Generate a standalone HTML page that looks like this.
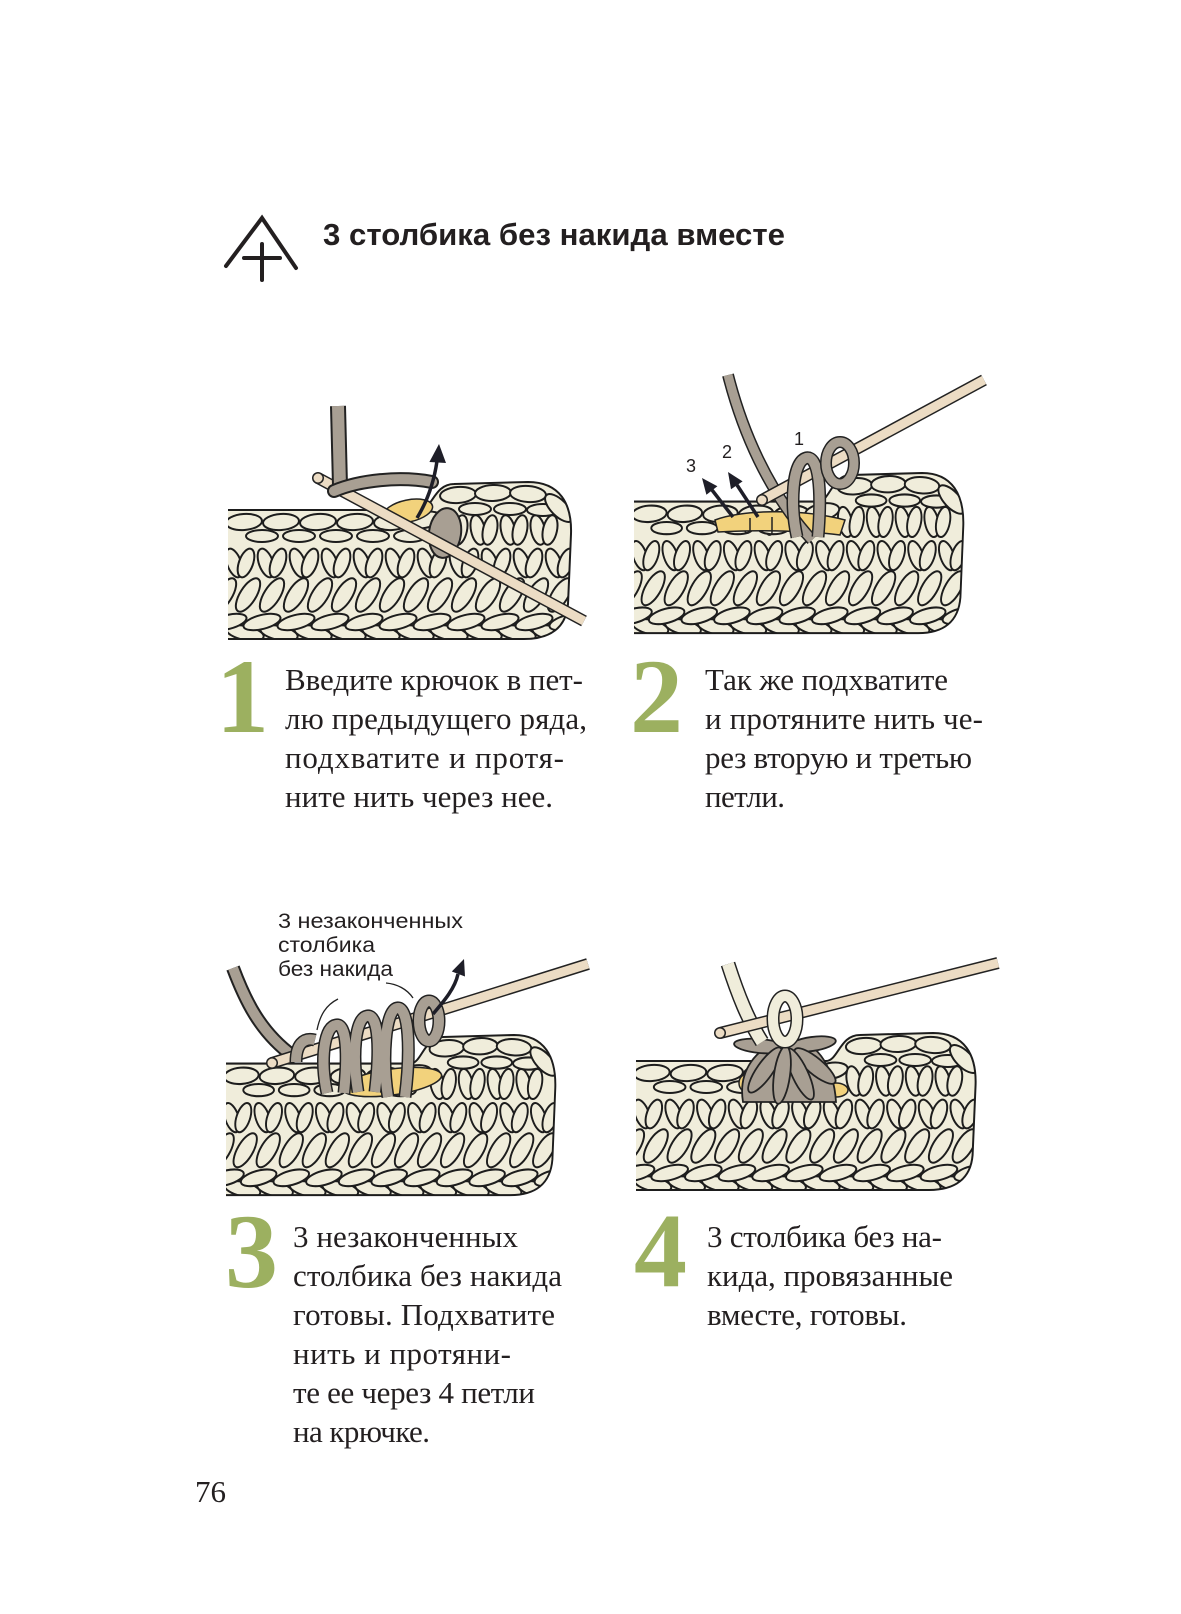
<!DOCTYPE html>
<html><head><meta charset="utf-8">
<style>
html,body{margin:0;padding:0;background:#fff;}
body{width:1181px;height:1614px;overflow:hidden;}
svg{display:block;}
.t{font-family:"Liberation Serif","Noto Serif CJK SC",serif;font-size:31px;fill:#231f20;}
.n{font-family:"Liberation Serif",serif;font-weight:bold;font-size:106px;fill:#9cb060;}
.s{font-family:"Liberation Sans",sans-serif;fill:#231f20;}
</style></head>
<body>
<svg width="1181" height="1614" viewBox="0 0 1181 1614" xmlns="http://www.w3.org/2000/svg">
<defs>
 <ellipse id="ct" rx="18" ry="8" fill="#f0eddb" stroke="#1d1d1d" stroke-width="2"/>
 <ellipse id="ct2" rx="16" ry="6" fill="#f0eddb" stroke="#1d1d1d" stroke-width="2"/>
 <ellipse id="vl" rx="7" ry="15" fill="#f0eddb" stroke="#1d1d1d" stroke-width="2"/>
 <ellipse id="dg" rx="8" ry="19" fill="#f0eddb" stroke="#1d1d1d" stroke-width="2"/>
 <ellipse id="bc" rx="19" ry="7" fill="#f0eddb" stroke="#1d1d1d" stroke-width="2"/>
 <clipPath id="swc"><path d="M0,28 L192,28 C204,28 206,2 226,2 L300,0 C332,0 344,22 343,52 L340,122 C338,146 322,157 296,157 L0,157 Z"/></clipPath>
 <g id="sw">
  <path d="M0,28 L192,28 C204,28 206,2 226,2 L300,0 C332,0 344,22 343,52 L340,122 C338,146 322,157 296,157 L0,157 Z" fill="#f0eddb"/>
  <g clip-path="url(#swc)">
   <use href="#bc" transform="translate(17,151) rotate(12)"/><use href="#bc" transform="translate(51,151) rotate(12)"/><use href="#bc" transform="translate(85,151) rotate(12)"/><use href="#bc" transform="translate(119,151) rotate(12)"/><use href="#bc" transform="translate(153,151) rotate(12)"/><use href="#bc" transform="translate(187,151) rotate(12)"/><use href="#bc" transform="translate(221,151) rotate(12)"/><use href="#bc" transform="translate(255,151) rotate(12)"/><use href="#bc" transform="translate(289,151) rotate(12)"/><use href="#bc" transform="translate(323,151) rotate(12)"/>
   <use href="#bc" transform="translate(0,140) rotate(-14)"/><use href="#bc" transform="translate(34,140) rotate(-14)"/><use href="#bc" transform="translate(68,140) rotate(-14)"/><use href="#bc" transform="translate(102,140) rotate(-14)"/><use href="#bc" transform="translate(136,140) rotate(-14)"/><use href="#bc" transform="translate(170,140) rotate(-14)"/><use href="#bc" transform="translate(204,140) rotate(-14)"/><use href="#bc" transform="translate(238,140) rotate(-14)"/><use href="#bc" transform="translate(272,140) rotate(-14)"/><use href="#bc" transform="translate(306,140) rotate(-14)"/><use href="#bc" transform="translate(340,140) rotate(-14)"/>
   <use href="#dg" transform="translate(-4,113) rotate(32)"/><use href="#dg" transform="translate(20,113) rotate(32)"/><use href="#dg" transform="translate(44,113) rotate(32)"/><use href="#dg" transform="translate(68,113) rotate(32)"/><use href="#dg" transform="translate(92,113) rotate(32)"/><use href="#dg" transform="translate(116,113) rotate(32)"/><use href="#dg" transform="translate(140,113) rotate(32)"/><use href="#dg" transform="translate(164,113) rotate(32)"/><use href="#dg" transform="translate(188,113) rotate(32)"/><use href="#dg" transform="translate(212,113) rotate(32)"/><use href="#dg" transform="translate(236,113) rotate(32)"/><use href="#dg" transform="translate(260,113) rotate(32)"/><use href="#dg" transform="translate(284,113) rotate(32)"/><use href="#dg" transform="translate(308,113) rotate(32)"/><use href="#dg" transform="translate(332,113) rotate(32)"/>
   <use href="#vl" transform="translate(6,81) rotate(-20)"/><use href="#vl" transform="translate(18,81) rotate(20)"/>
   <use href="#vl" transform="translate(38,81) rotate(-20)"/><use href="#vl" transform="translate(50,81) rotate(20)"/>
   <use href="#vl" transform="translate(70,81) rotate(-20)"/><use href="#vl" transform="translate(82,81) rotate(20)"/>
   <use href="#vl" transform="translate(102,81) rotate(-20)"/><use href="#vl" transform="translate(114,81) rotate(20)"/>
   <use href="#vl" transform="translate(134,81) rotate(-20)"/><use href="#vl" transform="translate(146,81) rotate(20)"/>
   <use href="#vl" transform="translate(166,81) rotate(-20)"/><use href="#vl" transform="translate(178,81) rotate(20)"/>
   <use href="#vl" transform="translate(198,81) rotate(-20)"/><use href="#vl" transform="translate(210,81) rotate(20)"/>
   <use href="#vl" transform="translate(230,81) rotate(-20)"/><use href="#vl" transform="translate(242,81) rotate(20)"/>
   <use href="#vl" transform="translate(262,81) rotate(-20)"/><use href="#vl" transform="translate(274,81) rotate(20)"/>
   <use href="#vl" transform="translate(294,81) rotate(-20)"/><use href="#vl" transform="translate(306,81) rotate(20)"/>
   <use href="#vl" transform="translate(326,81) rotate(-20)"/><use href="#vl" transform="translate(338,81) rotate(20)"/>
   <use href="#ct2" transform="translate(34,54)"/><use href="#ct2" transform="translate(71,54)"/><use href="#ct2" transform="translate(108,54)"/><use href="#ct2" transform="translate(145,54)"/><use href="#ct2" transform="translate(182,54)"/>
   <use href="#ct" transform="translate(16,40) rotate(-4)"/><use href="#ct" transform="translate(53,40) rotate(-4)"/><use href="#ct" transform="translate(90,40) rotate(-4)"/><use href="#ct" transform="translate(127,40) rotate(-4)"/><use href="#ct" transform="translate(164,40) rotate(-4)"/><use href="#ct" transform="translate(196,38) rotate(-10)"/>
   <use href="#vl" transform="translate(220,48) rotate(-12)"/><use href="#vl" transform="translate(232,48) rotate(12)"/>
   <use href="#vl" transform="translate(250,48) rotate(-12)"/><use href="#vl" transform="translate(262,48) rotate(12)"/>
   <use href="#vl" transform="translate(280,48) rotate(-12)"/><use href="#vl" transform="translate(292,48) rotate(12)"/>
   <use href="#vl" transform="translate(310,48) rotate(-12)"/><use href="#vl" transform="translate(322,48) rotate(12)"/>
   <use href="#ct2" transform="translate(247,27)"/><use href="#ct2" transform="translate(282,27)"/><use href="#ct2" transform="translate(315,28)"/>
   <use href="#ct" transform="translate(230,13) rotate(-4)"/><use href="#ct" transform="translate(265,11) rotate(-2)"/><use href="#ct" transform="translate(300,12) rotate(4)"/><use href="#ct" transform="translate(331,26) rotate(45)"/>
  </g>
  <path d="M0,28 L192,28 C204,28 206,2 226,2 L300,0 C332,0 344,22 343,52 L340,122 C338,146 322,157 296,157 L0,157" fill="none" stroke="#1d1d1d" stroke-width="2"/>
 </g>
</defs>

<!-- Title -->
<g fill="none" stroke="#231f20" stroke-width="4" stroke-linecap="round">
 <path d="M226,266 L262,218 L296,268"/>
 <path d="M262,244 L262,280 M244,258 L280,258"/>
</g>
<text class="s" x="323" y="245" font-size="31" font-weight="bold" textLength="462" lengthAdjust="spacingAndGlyphs">3 столбика без накида вместе</text>

<!-- Panel 1 -->
<use href="#sw" transform="translate(228,482)"/>
<ellipse cx="408" cy="511" rx="25" ry="11" transform="rotate(-12 408 511)" fill="#f2d27c" stroke="#222" stroke-width="1.5"/>
<ellipse cx="445" cy="533" rx="16" ry="25" transform="rotate(8 445 533)" fill="#a89f93" stroke="#222" stroke-width="2"/>
<line x1="318" y1="478" x2="584" y2="621" stroke="#222" stroke-width="12"/>
<line x1="318" y1="478" x2="584" y2="621" stroke="#ecdcc4" stroke-width="9"/>
<circle cx="318" cy="478" r="6" fill="#222"/><circle cx="318" cy="478" r="4.5" fill="#ecdcc4"/>
<path d="M338,406 L340,486" stroke="#222" stroke-width="16" fill="none"/>
<path d="M338,406 L340,486" stroke="#a89f93" stroke-width="12" fill="none"/>
<path d="M334,491 C360,480 400,476 432,482" stroke="#222" stroke-width="14" fill="none" stroke-linecap="round"/>
<path d="M334,491 C360,480 400,476 432,482" stroke="#a89f93" stroke-width="10" fill="none" stroke-linecap="round"/>
<path d="M417,518 C428,500 434,482 437,461" stroke="#1e1e28" stroke-width="3.5" fill="none"/>
<polygon points="439,444 429.4,462 446,463" fill="#1e1e28"/>

<!-- Panel 2 -->
<use href="#sw" transform="translate(634,473) scale(0.96,1.02)"/>
<path d="M715,520 C740,510 800,508 845,520 L840,535 C800,530 750,530 718,532 Z" fill="#f2d27c" stroke="#222" stroke-width="1.5"/>
<path d="M750,518 L750,530 C750,534 746,534 745,531 M772,517 L772,532 C772,536 768,536 767,533" stroke="#222" stroke-width="1.5" fill="none"/>
<path d="M728,375 C742,430 768,492 812,540" stroke="#222" stroke-width="12" fill="none"/>
<path d="M728,375 C742,430 768,492 812,540" stroke="#a89f93" stroke-width="9" fill="none"/>
<line x1="762" y1="500" x2="984" y2="380" stroke="#222" stroke-width="12"/>
<line x1="762" y1="500" x2="984" y2="380" stroke="#ecdcc4" stroke-width="9"/>
<circle cx="762" cy="500" r="6" fill="#222"/><circle cx="762" cy="500" r="4.5" fill="#ecdcc4"/>
<path d="M797,537 C790,505 792,462 806,458 C819,455 822,490 818,537" stroke="#222" stroke-width="13" fill="none"/>
<path d="M797,537 C790,505 792,462 806,458 C819,455 822,490 818,537" stroke="#a89f93" stroke-width="10" fill="none"/>
<ellipse cx="840" cy="463" rx="14" ry="21" fill="none" stroke="#222" stroke-width="12"/>
<ellipse cx="840" cy="463" rx="14" ry="21" fill="none" stroke="#a89f93" stroke-width="9"/>
<path d="M758,517 L737,485" stroke="#1e1e28" stroke-width="3.5"/>
<polygon points="728,472 742.6,481.4 731,489.2" fill="#1e1e28"/>
<path d="M733,517 L712,490" stroke="#1e1e28" stroke-width="3.5"/>
<polygon points="702,478 717.4,486.2 706.4,494.8" fill="#1e1e28"/>
<text class="s" x="691" y="472" font-size="18" text-anchor="middle">3</text>
<text class="s" x="727" y="458" font-size="18" text-anchor="middle">2</text>
<text class="s" x="799" y="445" font-size="18" text-anchor="middle">1</text>

<!-- Panel 3 -->
<use href="#sw" transform="translate(226,1035) scale(0.96,1.02)"/>
<ellipse cx="392" cy="1082" rx="50" ry="13" transform="rotate(-8 392 1082)" fill="#f2d27c" stroke="#222" stroke-width="1.5"/>
<path d="M233,968 C245,1000 260,1032 293,1056" stroke="#222" stroke-width="14" fill="none"/>
<path d="M233,968 C245,1000 260,1032 293,1056" stroke="#a89f93" stroke-width="10" fill="none"/>
<line x1="272" y1="1063" x2="588" y2="964" stroke="#222" stroke-width="12"/>
<line x1="272" y1="1063" x2="588" y2="964" stroke="#ecdcc4" stroke-width="9"/>
<circle cx="272" cy="1063" r="6" fill="#222"/><circle cx="272" cy="1063" r="4.5" fill="#ecdcc4"/>
<g fill="none" stroke="#222" stroke-width="13">
 <path d="M296,1062 C296,1045 303,1037 315,1040"/>
 <path d="M327,1093 C320,1060 324,1027 336,1025 C347,1023 348,1055 344,1093"/>
 <path d="M358,1092 C352,1055 355,1018 367,1016 C379,1014 380,1050 375,1092"/>
 <path d="M388,1097 C382,1060 385,1010 397,1008 C409,1006 411,1050 405,1097"/>
 <ellipse cx="429" cy="1021" rx="10" ry="20"/>
</g>
<g fill="none" stroke="#a89f93" stroke-width="10">
 <path d="M296,1062 C296,1045 303,1037 315,1040"/>
 <path d="M327,1093 C320,1060 324,1027 336,1025 C347,1023 348,1055 344,1093"/>
 <path d="M358,1092 C352,1055 355,1018 367,1016 C379,1014 380,1050 375,1092"/>
 <path d="M388,1097 C382,1060 385,1010 397,1008 C409,1006 411,1050 405,1097"/>
 <ellipse cx="429" cy="1021" rx="10" ry="20"/>
</g>
<path d="M317,1030 C320,1015 326,1005 338,999 M386,983 C397,984 407,989 413,998" stroke="#222" stroke-width="1.3" fill="none"/>
<path d="M433,1014 C445,1000 455,988 458,974" stroke="#1e1e28" stroke-width="3.5" fill="none"/>
<polygon points="464,959 465,976.5 451.8,971.5" fill="#1e1e28"/>
<text class="s" x="278" y="928" font-size="21.5" textLength="185" lengthAdjust="spacingAndGlyphs">3 незаконченных</text>
<text class="s" x="278" y="952" font-size="21.5" textLength="97" lengthAdjust="spacingAndGlyphs">столбика</text>
<text class="s" x="278" y="976" font-size="21.5" textLength="115" lengthAdjust="spacingAndGlyphs">без накида</text>

<!-- Panel 4 -->
<use href="#sw" transform="translate(636,1033) scale(0.99,1.0)"/>
<ellipse cx="745" cy="1083" rx="6" ry="8" fill="#f2d27c" stroke="#222" stroke-width="1.5"/>
<ellipse cx="836" cy="1090" rx="12" ry="7" fill="#f2d27c" stroke="#222" stroke-width="1.5"/>
<path d="M743,1102 C738,1072 755,1046 786,1040 C815,1036 834,1066 836,1102 Z" fill="#a89f93" stroke="#222" stroke-width="1.8"/>
<g fill="#a89f93" stroke="#222" stroke-width="1.8">
 <ellipse cx="760" cy="1046" rx="26" ry="7" transform="rotate(5 760 1046)"/>
 <ellipse cx="812" cy="1044" rx="24" ry="7" transform="rotate(-8 812 1044)"/>
 <ellipse cx="765" cy="1070" rx="8" ry="27" transform="rotate(35 765 1070)"/>
 <ellipse cx="815" cy="1066" rx="8" ry="26" transform="rotate(-50 815 1066)"/>
 <ellipse cx="800" cy="1074" rx="8" ry="28" transform="rotate(-25 800 1074)"/>
 <ellipse cx="782" cy="1075" rx="8" ry="29" transform="rotate(8 782 1075)"/>
</g>
<path d="M728,964 C738,995 748,1020 762,1042" stroke="#222" stroke-width="15" fill="none"/>
<path d="M728,964 C738,995 748,1020 762,1042" stroke="#f0eddb" stroke-width="12" fill="none"/>
<line x1="720" y1="1033" x2="998" y2="963" stroke="#222" stroke-width="12"/>
<line x1="720" y1="1033" x2="998" y2="963" stroke="#ecdcc4" stroke-width="9"/>
<circle cx="720" cy="1033" r="6" fill="#222"/><circle cx="720" cy="1033" r="4.5" fill="#ecdcc4"/>
<ellipse cx="785" cy="1019" rx="12" ry="23" fill="none" stroke="#222" stroke-width="13"/>
<ellipse cx="785" cy="1019" rx="12" ry="23" fill="none" stroke="#f0eddb" stroke-width="10"/>

<!-- Step numbers -->
<text class="n" x="216" y="732">1</text>
<text class="n" x="630" y="732">2</text>
<text class="n" x="225" y="1287">3</text>
<text class="n" x="634" y="1286">4</text>

<!-- Block 1 -->
<text class="t" x="285" y="690" textLength="298" lengthAdjust="spacing">Введите крючок в пет-</text>
<text class="t" x="285" y="729" textLength="302" lengthAdjust="spacing">лю предыдущего ряда,</text>
<text class="t" x="285" y="768" textLength="279" lengthAdjust="spacing">подхватите и протя-</text>
<text class="t" x="285" y="807" textLength="268" lengthAdjust="spacing">ните нить через нее.</text>

<!-- Block 2 -->
<text class="t" x="705" y="690" textLength="243" lengthAdjust="spacing">Так же подхватите</text>
<text class="t" x="705" y="729" textLength="278" lengthAdjust="spacing">и протяните нить че-</text>
<text class="t" x="705" y="768" textLength="267" lengthAdjust="spacing">рез вторую и третью</text>
<text class="t" x="705" y="807" textLength="80" lengthAdjust="spacing">петли.</text>

<!-- Block 3 -->
<text class="t" x="293" y="1247" textLength="225" lengthAdjust="spacing">3 незаконченных</text>
<text class="t" x="293" y="1286" textLength="269" lengthAdjust="spacing">столбика без накида</text>
<text class="t" x="293" y="1325" textLength="262" lengthAdjust="spacing">готовы. Подхватите</text>
<text class="t" x="293" y="1364" textLength="218" lengthAdjust="spacing">нить и протяни-</text>
<text class="t" x="293" y="1403" textLength="242" lengthAdjust="spacing">те ее через 4 петли</text>
<text class="t" x="293" y="1442" textLength="137" lengthAdjust="spacing">на крючке.</text>

<!-- Block 4 -->
<text class="t" x="707" y="1247" textLength="235" lengthAdjust="spacing">3 столбика без на-</text>
<text class="t" x="707" y="1286" textLength="246" lengthAdjust="spacing">кида, провязанные</text>
<text class="t" x="707" y="1325" textLength="200" lengthAdjust="spacing">вместе, готовы.</text>

<!-- Page number -->
<text class="t" x="195" y="1502" font-size="27">76</text>
</svg>
</body></html>
